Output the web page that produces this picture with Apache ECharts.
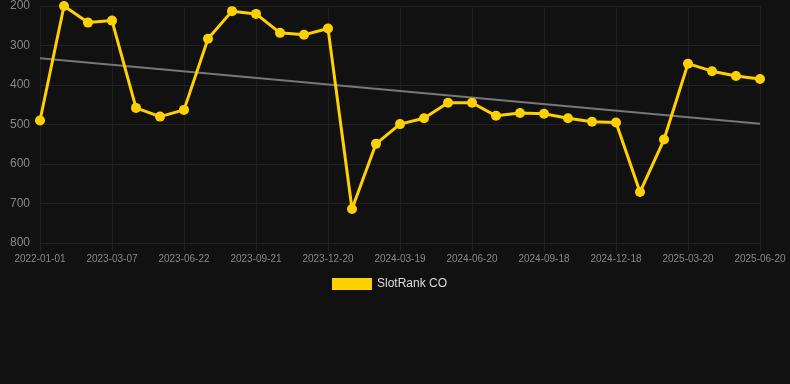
<!DOCTYPE html>
<html>
<head>
<meta charset="utf-8">
<script src="https://cdn.jsdelivr.net/npm/echarts@6/dist/echarts.min.js"></script>
<style>
  html, body { margin: 0; padding: 0; background: #111111; }
  #chart { width: 790px; height: 384px; }
</style>
</head>
<body>
<div id="chart"></div>
<script>
const dates = [
  '2022-01-01', '2023-01-05', '2023-02-05', '2023-03-07', '2023-04-10', '2023-05-15',
  '2023-06-22', '2023-07-20', '2023-08-21', '2023-09-21', '2023-10-20', '2023-11-20',
  '2023-12-20', '2024-01-19', '2024-02-19', '2024-03-19', '2024-04-19', '2024-05-20',
  '2024-06-20', '2024-07-19', '2024-08-19', '2024-09-18', '2024-10-18', '2024-11-18',
  '2024-12-18', '2025-01-18', '2025-02-18', '2025-03-20', '2025-04-20', '2025-05-20',
  '2025-06-20'
];
const rankValues = [
  490, 200, 242, 237, 458, 480, 463, 283, 213, 220, 268, 273,
  257, 714, 549, 499, 484, 445, 445, 478, 471, 473, 484, 493,
  495, 671, 538, 346, 365, 377, 385
];
// trend line: only the two ends, joined
const trendValues = dates.map(() => null);
trendValues[0] = 332;
trendValues[dates.length - 1] = 498;
const yTicks = { min: 200, max: 800, interval: 100 };

const chart = echarts.init(document.getElementById('chart'));
chart.setOption({
  backgroundColor: '#111111',
  animation: false,
  grid: {
    top: 6,
    left: 40,
    right: 30,
    height: 237
  },
  legend: {
    top: 278,
    left: 332,
    padding: 0,
    itemWidth: 40,
    itemHeight: 12,
    itemGap: 10,
    data: [{ name: 'SlotRank CO', icon: 'rect' }],
    textStyle: { color: '#dddddd', fontSize: 12, fontFamily: 'Liberation Sans, Arial, sans-serif' }
  },
  xAxis: {
    type: 'category',
    boundaryGap: false,
    data: dates,
    axisLine: { show: false },
    axisTick: {
      show: true,
      interval: 2,
      length: 8,
      lineStyle: { color: '#222222' }
    },
    axisLabel: {
      interval: 2,
      color: '#888888',
      fontSize: 10,
      margin: 11,
      fontFamily: 'Liberation Sans, Arial, sans-serif'
    },
    splitLine: {
      show: true,
      interval: 2,
      lineStyle: { color: '#1f1f1f', width: 1 }
    }
  },
  yAxis: {
    type: 'value',
    inverse: true,
    min: yTicks.min,
    max: yTicks.max,
    interval: yTicks.interval,
    axisLine: { show: false },
    axisTick: { show: false },
    axisLabel: {
      color: '#888888',
      fontSize: 12,
      margin: 10,
      fontFamily: 'Liberation Sans, Arial, sans-serif'
    },
    splitLine: {
      lineStyle: { color: '#222222', width: 1 }
    }
  },
  series: [
    {
      name: 'Trend',
      type: 'line',
      data: trendValues,
      connectNulls: true,
      showSymbol: false,
      symbol: 'none',
      silent: true,
      lineStyle: { color: '#777777', width: 2 },
      z: 1
    },
    {
      name: 'SlotRank CO',
      type: 'line',
      data: rankValues,
      symbol: 'circle',
      symbolSize: 10,
      itemStyle: { color: '#ffd000' },
      lineStyle: { color: '#ffd000', width: 3 },
      z: 2
    }
  ]
});
</script>
</body>
</html>
